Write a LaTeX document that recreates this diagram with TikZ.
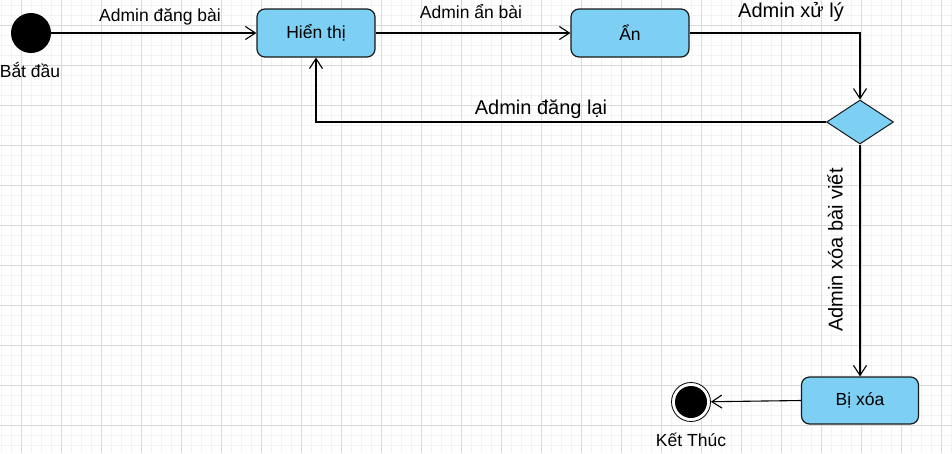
\documentclass[tikz,border=0pt]{standalone}
\usepackage{fontspec}
\setmainfont{Liberation Sans}
\usetikzlibrary{arrows.meta,shapes.geometric}
\definecolor{boxblue}{RGB}{125,207,243}
\definecolor{gridmajor}{RGB}{218,218,218}
\definecolor{gridminor}{RGB}{243,243,243}
\begin{document}
\begin{tikzpicture}[x=1pt,y=-1pt,
  state/.style={draw=black!90, fill=boxblue, rounded corners=8pt, line width=1.2pt,
    minimum width=118pt, minimum height=48pt, inner sep=0pt, font=\fontsize{17.5}{20}\selectfont},
  conn/.style={line width=1.1pt, -{Straight Barb[length=10pt,width=13pt,line width=1.1pt]}},
  lbl/.style={font=\fontsize{17.5}{20}\selectfont, inner sep=0pt},
  biglbl/.style={font=\fontsize{20}{24}\selectfont, inner sep=0pt}]
\useasboundingbox (0,0) rectangle (952,453);
\fill[white] (0,0) rectangle (952,453);
% grid
\foreach \x in {1,11,...,951} \draw[gridminor, line width=0.8pt] (\x,0) -- (\x,453);
\foreach \y in {5,15,...,450} \draw[gridminor, line width=0.8pt] (0,\y) -- (952,\y);
\foreach \x in {21,61,...,941} \draw[gridmajor, line width=0.9pt] (\x,0) -- (\x,453);
\foreach \y in {25,65,...,445} \draw[gridmajor, line width=0.9pt] (0,\y) -- (952,\y);
% nodes
\node[circle, fill=black, minimum size=40pt, inner sep=0pt] (start) at (31,33) {};
\node[lbl] (startlbl) at (30,70) {Bắt đầu};
\node[state] (hien) at (316,33) {Hiển thị};
\node[state] (an) at (630,33) {Ẩn};
\node[diamond, draw=black!90, fill=boxblue, line width=1pt, minimum width=67pt, minimum height=44pt, inner sep=0pt] (dec) at (860,122) {};
\node[state, minimum width=117pt, minimum height=47pt] (bixoa) at (860,400.5) {Bị xóa};
\node[circle, draw=black, line width=0.8pt, fill=white, minimum size=39pt, inner sep=0pt] (kt) at (691,402) {};
\node[circle, fill=black, minimum size=32pt, inner sep=0pt] (ktin) at (kt) {};
\node[lbl] (ktlbl) at (691,440) {Kết Thúc};
% connectors
\draw[conn] (start) -- (hien);
\draw[conn] (hien) -- (an);
\draw[conn] (an.east) -| (dec.north);
\draw[conn] (dec.west) -| (hien.south);
\draw[conn] (dec.south) -- (bixoa.north);
\draw[conn] (bixoa.west) -- (kt);
% labels
\node[lbl] (l1) at (160,17) {Admin đăng bài};
\node[lbl] (l2) at (471,12) {Admin ẩn bài};
\node[biglbl] (l3) at (791,12) {Admin xử lý};
\node[biglbl] (l4) at (541,109) {Admin đăng lại};
\node[biglbl, rotate=90] (l5) at (835,250) {Admin xóa bài viết};
\end{tikzpicture}
\end{document}
